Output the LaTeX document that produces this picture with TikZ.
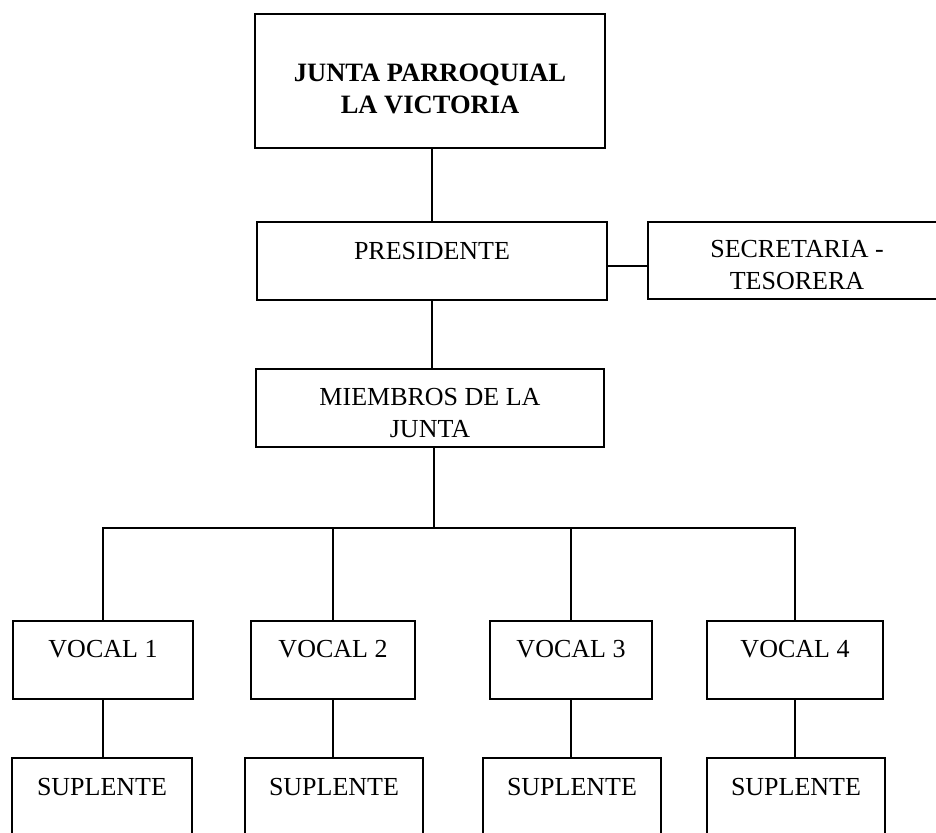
\documentclass[tikz,border=0pt]{standalone}
\usepackage{fontspec}
\setmainfont{Liberation Serif}
\begin{document}
\begin{tikzpicture}[x=1pt,y=-1pt,
  box/.style={draw, line width=1.8pt, inner sep=0pt, font=\fontsize{26}{32}\selectfont, text height=18pt},
  conn/.style={line width=1.8pt}]
\useasboundingbox (0,0) rectangle (936,832);
\node[box, minimum width=350pt, minimum height=134pt, text depth=17pt,
  font=\fontsize{26.5}{32}\selectfont\bfseries] (junta) at (430,81)
  {\begin{tabular}[t]{@{}c@{}}JUNTA PARROQUIAL\\LA VICTORIA\end{tabular}};
\node[box, minimum width=350pt, minimum height=78pt, text depth=22pt] (pres) at (432,261) {PRESIDENTE};
\node[box, minimum width=298pt, minimum height=77pt, text depth=25pt] (sec) at (797,260.5)
  {\begin{tabular}[t]{@{}c@{}}SECRETARIA -\\TESORERA\end{tabular}};
\node[box, minimum width=348pt, minimum height=78pt, text depth=24pt] (miem) at (430,408)
  {\begin{tabular}[t]{@{}c@{}}MIEMBROS DE LA\\JUNTA\end{tabular}};
\node[box, minimum width=180pt, minimum height=78pt, text depth=24pt] (v1) at (103,660) {VOCAL 1};
\node[box, minimum width=164pt, minimum height=78pt, text depth=24pt] (v2) at (333,660) {VOCAL 2};
\node[box, minimum width=162pt, minimum height=78pt, text depth=24pt] (v3) at (571,660) {VOCAL 3};
\node[box, minimum width=176pt, minimum height=78pt, text depth=24pt] (v4) at (795,660) {VOCAL 4};
\node[box, minimum width=180pt, minimum height=78pt, text depth=22pt] (s1) at (102,797) {SUPLENTE};
\node[box, minimum width=178pt, minimum height=78pt, text depth=22pt] (s2) at (334,797) {SUPLENTE};
\node[box, minimum width=178pt, minimum height=78pt, text depth=22pt] (s3) at (572,797) {SUPLENTE};
\node[box, minimum width=178pt, minimum height=78pt, text depth=22pt] (s4) at (796,797) {SUPLENTE};
\coordinate (bus) at (434,528);
\draw[conn] (pres.north) -- (pres.north |- junta.south);
\draw[conn] ([yshift=-5pt]pres.east) -- ([yshift=-5pt]pres.east -| sec.west);
\draw[conn] (pres.south) -- (pres.south |- miem.north);
\draw[conn] (bus |- miem.south) -- (bus);
\draw[conn] (v1.north) -- (v1.north |- bus) -- (v4.north |- bus) -- (v4.north);
\draw[conn] (v2.north) -- (v2.north |- bus);
\draw[conn] (v3.north) -- (v3.north |- bus);
\draw[conn] (v1.south) -- (v1.south |- s1.north);
\draw[conn] (v2.south) -- (v2.south |- s2.north);
\draw[conn] (v3.south) -- (v3.south |- s3.north);
\draw[conn] (v4.south) -- (v4.south |- s4.north);
\end{tikzpicture}
\end{document}
